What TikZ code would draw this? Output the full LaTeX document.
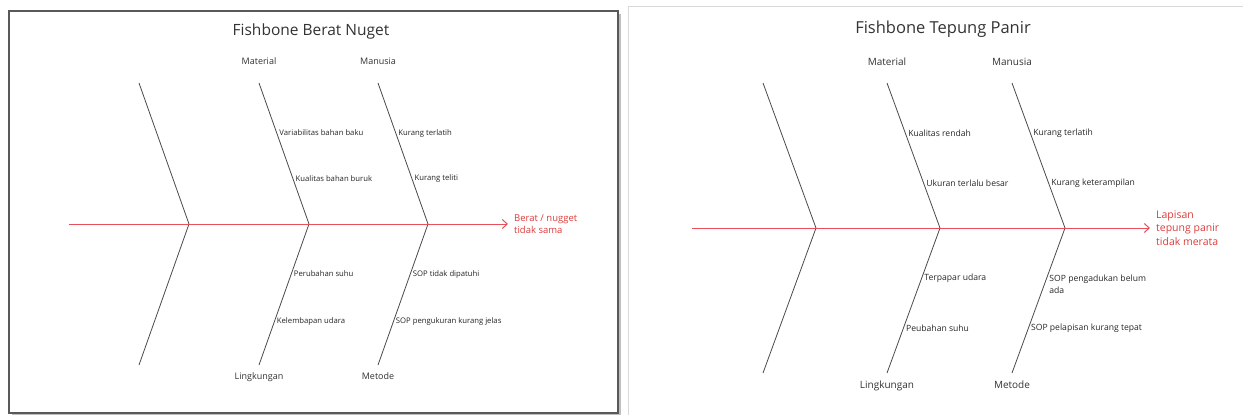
\documentclass[tikz,border=0pt]{standalone}
\usepackage{fontspec}
\setmainfont{Open Sans}
\usetikzlibrary{arrows.meta,positioning}
\definecolor{spinered}{HTML}{E6505A}
\definecolor{effectred}{HTML}{DC3C3C}
\definecolor{bonegray}{HTML}{4A4A4A}

\begin{document}
\begin{tikzpicture}[x=1pt, y=-1pt,
  bone/.style={draw=bonegray, line width=0.8pt},
  spine/.style={draw=spinered, line width=1pt, -{Straight Barb[length=5pt,width=9pt]}},
  cause/.style={anchor=west, inner sep=2.5pt, align=left, text=black!85},
  cat/.style={text=black!80},
  title/.style={text=black!80},
  effect/.style={anchor=west, align=left, text=effectred, inner sep=0pt}]
  \useasboundingbox (0,0) rectangle (1243,415);

  % left sheet: berat nuget
  \fill[black!25] (12,14) rectangle (621,415);
  \filldraw[fill=white, draw=black!65, line width=1.5pt] (9,11) rectangle (618,413);
  \node[title, font=\fontsize{15.5}{18}\selectfont] (title1) at (311,31) {Fishbone Berat Nuget};
  \foreach \n/\x in {1/189,2/309,3/428} {
    \coordinate (ja\n) at (\x,224);
    \coordinate (ta\n) at (\x-50,83);
    \coordinate (ba\n) at (\x-50,365);
    \draw[bone] (ta\n) -- (ja\n) -- (ba\n);
  }
  \coordinate (taila) at (69,224);
  \node[effect, font=\fontsize{9.5}{12}\selectfont] (effa) at (514,224) {Berat / nugget\\tidak sama};
  \draw[spine] (taila) -- ([xshift=-6pt]effa.west);

  \node[cat, font=\fontsize{9}{11}\selectfont, above=15pt of ta2] (mata) {Material};
  \node[cat, font=\fontsize{9}{11}\selectfont, above=15pt of ta3] (mana) {Manusia};
  \node[cat, font=\fontsize{9}{11}\selectfont, below=4pt of ba2] (linga) {Lingkungan};
  \node[cat, font=\fontsize{9}{11}\selectfont, below=4pt of ba3] (meta) {Metode};

  \begin{scope}[every node/.append style={font=\fontsize{7.7}{9.5}\selectfont}]
    \path (ta2) -- node[cause, pos=.355] (ca1) {Variabilitas bahan baku}
                   node[cause, pos=.68] (ca2) {Kualitas bahan buruk} (ja2);
    \path (ta3) -- node[cause, pos=.355] (ca3) {Kurang terlatih}
                   node[cause, pos=.68] (ca4) {Kurang teliti} (ja3);
    \path (ja2) -- node[cause, pos=.355] (ca5) {Perubahan suhu}
                   node[cause, pos=.695] (ca6) {Kelembapan udara} (ba2);
    \path (ja3) -- node[cause, pos=.355] (ca7) {SOP tidak dipatuhi}
                   node[cause, pos=.695] (ca8) {SOP pengukuran kurang jelas} (ba3);
  \end{scope}

  % right sheet: tepung panir
  \draw[black!15, line width=1pt] (628,415) -- (628,6) -- (1243,6);
  \node[title, font=\fontsize{16.5}{19}\selectfont] (title2) at (943,29) {Fishbone Tepung Panir};
  \foreach \n/\x in {1/816,2/940,3/1065} {
    \coordinate (jb\n) at (\x,228);
    \coordinate (tb\n) at (\x-53,83);
    \coordinate (bb\n) at (\x-53,373);
    \draw[bone] (tb\n) -- (jb\n) -- (bb\n);
  }
  \coordinate (tailb) at (692,228);
  \node[effect, font=\fontsize{10.5}{13.5}\selectfont] (effb) at (1156,228) {Lapisan\\tepung panir\\tidak merata};
  \draw[spine] (tailb) -- ([xshift=-6pt]effb.west);

  \node[cat, font=\fontsize{10}{12}\selectfont, above=14pt of tb2] (matb) {Material};
  \node[cat, font=\fontsize{10}{12}\selectfont, above=14pt of tb3] (manb) {Manusia};
  \node[cat, font=\fontsize{10}{12}\selectfont, below=4pt of bb2] (lingb) {Lingkungan};
  \node[cat, font=\fontsize{10}{12}\selectfont, below=4pt of bb3] (metb) {Metode};

  \begin{scope}[every node/.append style={font=\fontsize{8.6}{12}\selectfont}]
    \path (tb2) -- node[cause, pos=.35] (cb1) {Kualitas rendah}
                   node[cause, pos=.69] (cb2) {Ukuran terlalu besar} (jb2);
    \path (tb3) -- node[cause, pos=.35] (cb3) {Kurang terlatih}
                   node[cause, pos=.69] (cb4) {Kurang keterampilan} (jb3);
    \path (jb2) -- node[cause, pos=.345] (cb5) {Terpapar udara}
                   node[cause, pos=.69] (cb6) {Peubahan suhu} (bb2);
    \path (jb3) -- node[cause, pos=.345, yshift=-6pt] (cb7) {SOP pengadukan belum\\ada}
                   node[cause, pos=.69] (cb8) {SOP pelapisan kurang tepat} (bb3);
  \end{scope}
\end{tikzpicture}
\end{document}
